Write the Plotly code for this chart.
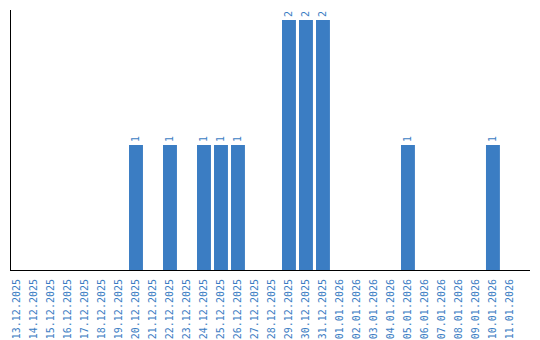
import plotly.graph_objects as go

dates = ["13.12.2025", "14.12.2025", "15.12.2025", "16.12.2025", "17.12.2025",
         "18.12.2025", "19.12.2025", "20.12.2025", "21.12.2025", "22.12.2025",
         "23.12.2025", "24.12.2025", "25.12.2025", "26.12.2025", "27.12.2025",
         "28.12.2025", "29.12.2025", "30.12.2025", "31.12.2025", "01.01.2026",
         "02.01.2026", "03.01.2026", "04.01.2026", "05.01.2026", "06.01.2026",
         "07.01.2026", "08.01.2026", "09.01.2026", "10.01.2026", "11.01.2026"]
counts = [0, 0, 0, 0, 0, 0, 0, 1, 0, 1,
          0, 1, 1, 1, 0, 0, 2, 2, 2, 0,
          0, 0, 0, 1, 0, 0, 0, 0, 1, 0]

blue = "#3b7dc3"
mono = "DejaVu Sans Mono"
labels = [str(c) if c > 0 else "" for c in counts]

fig = go.Figure(go.Bar(
    x=dates, y=counts, marker_color=blue, marker_line_width=0,
    text=labels, textposition="outside", textangle=-90,
    textfont=dict(color=blue, size=10, family=mono),
    cliponaxis=False,
))
fig.update_layout(
    width=540, height=340,
    margin=dict(l=11, r=10, t=10, b=70, autoexpand=False),
    paper_bgcolor="white", plot_bgcolor="white",
    bargap=0.18, showlegend=False,
    font=dict(family=mono, size=10, color=blue),
)
fig.update_xaxes(type="category", range=[-0.353, 30.18], showline=True,
                 linecolor="black", linewidth=1, tickangle=-90, ticks="",
                 ticklabelstandoff=4, automargin=False,
                 showgrid=False, tickfont=dict(size=10, color=blue, family=mono))
fig.update_yaxes(range=[0, 2.08], showline=True, linecolor="black", linewidth=1,
                 showticklabels=False, ticks="", showgrid=False, zeroline=False,
                 automargin=False)
fig.write_html("out.html")
